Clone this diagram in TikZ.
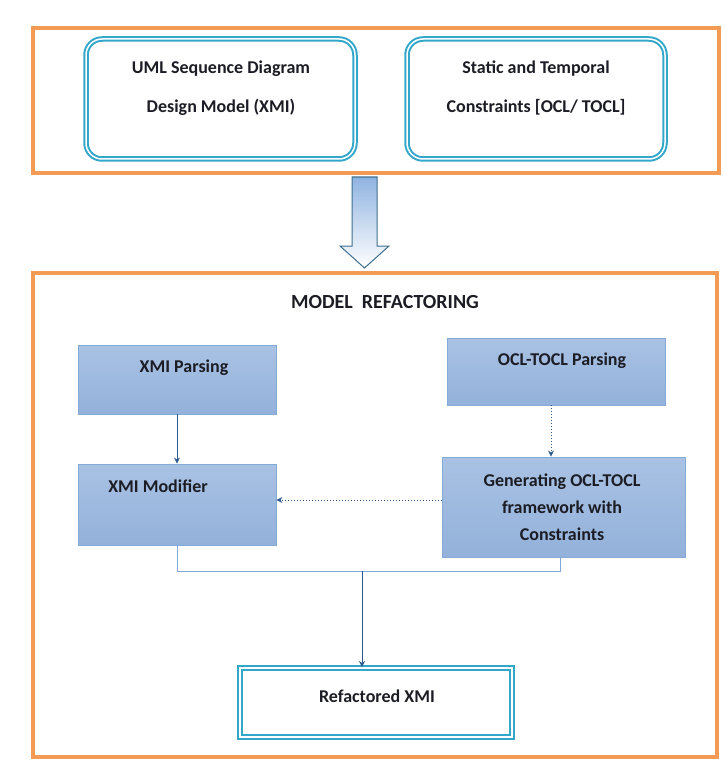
\documentclass[tikz,border=0pt]{standalone}
\usepackage{fontspec}
\setmainfont{Carlito}
\usetikzlibrary{arrows.meta}
\definecolor{naranja}{HTML}{F39B55}
\definecolor{turquesa}{HTML}{33A7CA}
\definecolor{azulA}{HTML}{A9C2E4}
\definecolor{azulB}{HTML}{DCE7F4}
\definecolor{azulC}{HTML}{93B1DA}
\definecolor{bordeAzul}{HTML}{86AAD6}
\definecolor{enlace}{HTML}{2C5A8C}
\definecolor{enlaceClaro}{HTML}{7FA7D8}
\definecolor{flecha}{HTML}{3E6F8E}
\definecolor{flechaAzul}{HTML}{8FB3E0}
\definecolor{tinta}{HTML}{1C1C24}

\begin{document}
\begin{tikzpicture}[x=1pt,y=-1pt,>={Stealth[length=6pt,width=6pt]},
    marco/.style={draw=naranja,line width=4.5pt},
    modelo/.style={draw=turquesa,line width=2pt,double=white,double distance=1.5pt,
                   rounded corners=16pt,minimum height=120},
    proceso/.style={draw=bordeAzul,line width=0.8pt,top color=azulA,
                    middle color=azulB,bottom color=azulC},
    salida/.style={draw=turquesa,line width=2pt,double=white,double distance=1.5pt},
    texto/.style={text=tinta,align=center,font=\fontsize{18}{39}\selectfont\bfseries},
    enlaceF/.style={->,draw=enlace,line width=1pt},
    enlaceP/.style={->,draw=enlace,line width=1pt,dotted},
    union/.style={draw=enlaceClaro,line width=1pt}]
  \useasboundingbox (0,0) rectangle (722,762);
  \node[marco,minimum width=686,minimum height=145] (entradas) at (376,100.5) {};
  \node[marco,minimum width=684,minimum height=484] (refactor) at (375,515) {};
  \node[modelo,minimum width=269] (uml) at (220.5,99) {};
  \node[modelo,minimum width=258] (restr) at (536,99) {};
  \node[texto] (umltxt) at (221,88) {UML Sequence Diagram\\Design Model (XMI)};
  \node[texto] (restrtxt) at (536,88) {Static and Temporal\\Constraints [OCL/ TOCL]};
  \shade[draw=flecha,line width=1pt,top color=flechaAzul,bottom color=white]
    (352,177) -- (377,177) -- (377,246) -- (389,246) -- (364.5,268)
    -- (340,246) -- (352,246) -- cycle;
  \node[texto,font=\fontsize{20}{24}\selectfont\bfseries] (titulo) at (385,302)
    {MODEL\ \ REFACTORING};
  \node[proceso,minimum width=198,minimum height=69] (xpars) at (177,379.5) {};
  \node[texto] (xparstxt) at (184,368) {XMI Parsing};
  \node[proceso,minimum width=198,minimum height=81] (xmod) at (177,504.5) {};
  \node[texto] (xmodtxt) at (158,486) {XMI Modifier};
  \node[proceso,minimum width=218,minimum height=67] (oclp) at (556,371.5) {};
  \node[texto] (oclptxt) at (562,361) {OCL-TOCL Parsing};
  \node[proceso,minimum width=243,minimum height=100] (gen) at (563.5,507) {};
  \node[texto,font=\fontsize{18}{27}\selectfont\bfseries] (gentxt) at (562,507)
    {Generating OCL-TOCL\\framework with\\Constraints};
  \node[salida,minimum width=272,minimum height=69] (refx) at (376,702.5) {};
  \node[texto] (refxtxt) at (377,696) {Refactored XMI};
  \coordinate (cruce) at (362,571);
  \draw[enlaceF] (xpars) -- (xmod);
  \draw[enlaceP] (oclp.south -| 551,0) -- (gen.north -| 551,0);
  \draw[enlaceP] (gen.west |- 0,500) -- (xmod.east |- 0,500);
  \draw[union] (xmod.south) -- (xmod.south |- cruce) -- (cruce -| 560,0)
    -- (gen.south -| 560,0);
  \draw[enlaceF] (cruce) -- (cruce |- refx.north);
\end{tikzpicture}
\end{document}
